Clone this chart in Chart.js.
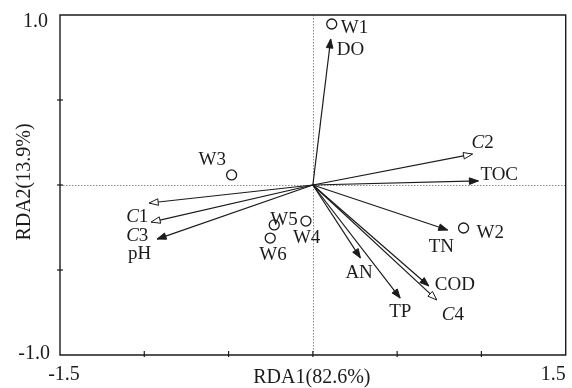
<!DOCTYPE html>
<html>
<head>
<meta charset="utf-8">
<script src="https://cdn.jsdelivr.net/npm/chart.js@4.4.1/dist/chart.umd.min.js"></script>
<style>
  html, body { margin: 0; padding: 0; background: #ffffff; }
  #wrap { width: 572px; height: 388px; }
</style>
</head>
<body>
<div id="wrap"><canvas id="c" width="572" height="388"></canvas></div>
<script>
// ---- Data ----
const siteNames = ['W1', 'W2', 'W3', 'W4', 'W5', 'W6'];
const siteX = [0.112, 0.894, -0.482, -0.041, -0.229, -0.253];
const siteY = [0.947, -0.253, 0.059, -0.212, -0.235, -0.312];

const envNames = ['DO', 'TOC', 'TN', 'AN', 'TP', 'COD', 'pH'];
const envX = [0.106, 0.982, 0.800, 0.282, 0.518, 0.688, -0.924];
const envY = [0.859, 0.024, -0.265, -0.429, -0.665, -0.594, -0.318];

const speciesNames = ['1', '2', '3', '4']; // shown as italic "C" + number
const speciesX = [-0.971, 0.947, -0.959, 0.735];
const speciesY = [-0.106, 0.182, -0.218, -0.676];

const xTickLabels = ['-1.5', '1.5'];
const xTickValues = [-1.5, 1.5];
const yTickLabels = ['1.0', '-1.0'];
const yTickValues = [1.0, -1.0];
const xTitle = 'RDA1(82.6%)';
const yTitle = 'RDA2(13.9%)';

// ---- Label placement (pixel offsets from anchor: dx, dy to left/baseline) ----
const siteLabelOffsets = [[9, 9], [13, 10], [-33, -10], [-13, 22], [-4, 0], [-11, 22]];
const envLabelOffsets = [[6, 16], [2, -1], [-19, 22], [-15, 20], [-11, 19], [6, 4], [-29, 20]];
const speciesLabelOffsets = [[-23, 19], [-1, -6], [-25, 19], [5, 20]];

const INK = '#1b1b1b';
const LABEL_FONT = '19px "Liberation Serif", "Times New Roman", serif';
const LABEL_FONT_IT = 'italic 19px "Liberation Serif", "Times New Roman", serif';
const AXIS_FONT = '20px "Liberation Serif", "Times New Roman", serif';

const datasets = [];
datasets.push({
  label: 'sites',
  data: siteX.map((x, i) => ({ x: x, y: siteY[i] })),
  pointRadius: 5,
  pointHoverRadius: 5,
  pointBorderWidth: 1.3,
  borderColor: INK,
  backgroundColor: 'rgba(0,0,0,0)',
  showLine: false
});
function arrowDs(name, x, y) {
  return {
    label: name,
    data: [{ x: 0, y: 0 }, { x: x, y: y }],
    showLine: true,
    borderColor: INK,
    borderWidth: 1.2,
    pointRadius: 0,
    pointHoverRadius: 0,
    fill: false
  };
}
envNames.forEach((n, i) => datasets.push(arrowDs(n, envX[i], envY[i])));
speciesNames.forEach((n, i) => datasets.push(arrowDs('C' + n, speciesX[i], speciesY[i])));

function arrowHead(ctx, x0, y0, x1, y1, open) {
  const ang = Math.atan2(y1 - y0, x1 - x0);
  const L = 9, W = 3.3;
  const bx = x1 - L * Math.cos(ang), by = y1 - L * Math.sin(ang);
  const px = -Math.sin(ang) * W, py = Math.cos(ang) * W;
  ctx.beginPath();
  ctx.moveTo(x1, y1);
  ctx.lineTo(bx + px, by + py);
  ctx.lineTo(bx - px, by - py);
  ctx.closePath();
  ctx.lineWidth = 1;
  ctx.strokeStyle = INK;
  if (open) { ctx.fillStyle = '#ffffff'; ctx.fill(); ctx.stroke(); }
  else { ctx.fillStyle = INK; ctx.fill(); ctx.stroke(); }
}

const decor = {
  id: 'decor',
  beforeDatasetsDraw(chart) {
    const ctx = chart.ctx, xs = chart.scales.x, ys = chart.scales.y, a = chart.chartArea;
    ctx.save();
    ctx.strokeStyle = '#8a8a8a';
    ctx.lineWidth = 1;
    ctx.setLineDash([1.5, 1.5]);
    const x0 = Math.round(xs.getPixelForValue(0)) + 0.5;
    const y0 = Math.round(ys.getPixelForValue(0)) + 0.5;
    ctx.beginPath(); ctx.moveTo(x0, a.top); ctx.lineTo(x0, a.bottom); ctx.stroke();
    ctx.beginPath(); ctx.moveTo(a.left, y0); ctx.lineTo(a.right, y0); ctx.stroke();
    ctx.restore();
  },
  afterDraw(chart) {
    const ctx = chart.ctx, xs = chart.scales.x, ys = chart.scales.y, a = chart.chartArea;
    ctx.save();
    // frame
    ctx.strokeStyle = INK;
    ctx.lineWidth = 1.4;
    ctx.beginPath();
    ctx.rect(a.left, a.top, a.right - a.left, a.bottom - a.top);
    ctx.stroke();
    // ticks
    ctx.lineWidth = 1.2;
    [-1, -0.5, 0, 0.5, 1].forEach(v => {
      const px = xs.getPixelForValue(v);
      ctx.beginPath(); ctx.moveTo(px, a.bottom + 2); ctx.lineTo(px, a.bottom - 4); ctx.stroke();
    });
    [-0.5, 0, 0.5].forEach(v => {
      const py = ys.getPixelForValue(v);
      ctx.beginPath(); ctx.moveTo(a.left - 3, py); ctx.lineTo(a.left + 3, py); ctx.stroke();
    });
    // tick labels
    ctx.fillStyle = INK;
    ctx.font = AXIS_FONT;
    ctx.textBaseline = 'alphabetic';
    ctx.textAlign = 'right';
    ctx.fillText(yTickLabels[0], a.left - 12, ys.getPixelForValue(yTickValues[0]) + 12);
    ctx.fillText(yTickLabels[1], a.left - 10, ys.getPixelForValue(yTickValues[1]) + 4);
    ctx.textAlign = 'center';
    ctx.fillText(xTickLabels[0], xs.getPixelForValue(xTickValues[0]) + 4, a.bottom + 25);
    ctx.textAlign = 'right';
    ctx.fillText(xTickLabels[1], xs.getPixelForValue(xTickValues[1]), a.bottom + 25);
    // axis titles
    ctx.textAlign = 'center';
    ctx.fillText(xTitle, (a.left + a.right) / 2 - 1, a.bottom + 28);
    ctx.save();
    ctx.translate(30, (a.top + a.bottom) / 2 - 3);
    ctx.rotate(-Math.PI / 2);
    ctx.fillText(yTitle, 0, 0);
    ctx.restore();

    // arrowheads
    const ox = xs.getPixelForValue(0), oy = ys.getPixelForValue(0);
    envNames.forEach((n, i) => {
      arrowHead(ctx, ox, oy, xs.getPixelForValue(envX[i]), ys.getPixelForValue(envY[i]), false);
    });
    speciesNames.forEach((n, i) => {
      arrowHead(ctx, ox, oy, xs.getPixelForValue(speciesX[i]), ys.getPixelForValue(speciesY[i]), true);
    });

    // labels
    ctx.fillStyle = INK;
    ctx.textAlign = 'left';
    ctx.textBaseline = 'alphabetic';
    ctx.font = LABEL_FONT;
    siteNames.forEach((n, i) => {
      const o = siteLabelOffsets[i];
      ctx.fillText(n, xs.getPixelForValue(siteX[i]) + o[0], ys.getPixelForValue(siteY[i]) + o[1]);
    });
    envNames.forEach((n, i) => {
      const o = envLabelOffsets[i];
      ctx.fillText(n, xs.getPixelForValue(envX[i]) + o[0], ys.getPixelForValue(envY[i]) + o[1]);
    });
    speciesNames.forEach((n, i) => {
      const o = speciesLabelOffsets[i];
      const px = xs.getPixelForValue(speciesX[i]) + o[0];
      const py = ys.getPixelForValue(speciesY[i]) + o[1];
      ctx.font = LABEL_FONT_IT;
      ctx.fillText('C', px, py);
      const w = ctx.measureText('C').width;
      ctx.font = LABEL_FONT;
      ctx.fillText(n, px + w, py);
    });
    ctx.restore();
  }
};

new Chart(document.getElementById('c'), {
  type: 'scatter',
  data: { datasets: datasets },
  options: {
    responsive: false,
    animation: false,
    devicePixelRatio: 1,
    layout: { padding: { left: 60, right: 2, top: 15, bottom: 33 } },
    plugins: { legend: { display: false }, tooltip: { enabled: false } },
    events: [],
    scales: {
      x: { type: 'linear', min: -1.5, max: 1.5, display: false },
      y: { type: 'linear', min: -1.0, max: 1.0, display: false }
    }
  },
  plugins: [decor]
});
</script>
</body>
</html>
